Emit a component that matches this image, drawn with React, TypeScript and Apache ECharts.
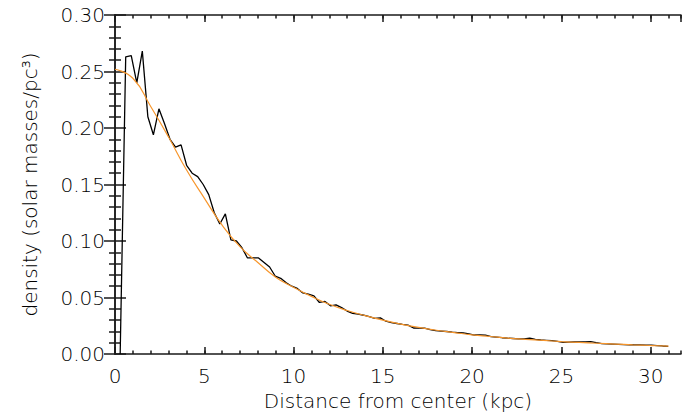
import React, { useEffect, useRef } from "react";
import * as echarts from "echarts";

const distances = [
  0.29, 0.6, 0.91, 1.22, 1.53, 1.84, 2.15, 2.46, 2.77, 3.08,
  3.39, 3.7, 4.01, 4.32, 4.63, 4.94, 5.25, 5.56, 5.87, 6.18,
  6.49, 6.8, 7.11, 7.42, 7.73, 8.04, 8.35, 8.66, 8.97, 9.28,
  9.59, 9.9, 10.21, 10.52, 10.83, 11.14, 11.45, 11.76, 12.07, 12.38,
  12.69, 13.0, 13.31, 13.62, 13.93, 14.24, 14.55, 14.86, 15.17, 15.48,
  15.79, 16.1, 16.41, 16.72, 17.03, 17.34, 17.65, 17.96, 18.27, 18.58,
  18.89, 19.2, 19.51, 19.82, 20.13, 20.44, 20.75, 21.06, 21.37, 21.68,
  21.99, 22.3, 22.61, 22.92, 23.23, 23.54, 23.85, 24.16, 24.47, 24.78,
  25.09, 25.4, 25.71, 26.02, 26.33, 26.64, 26.95, 27.26, 27.57, 27.88,
  28.19, 28.5, 28.81, 29.12, 29.43, 29.74, 30.05, 30.36, 30.67, 30.98,
];

const densities = [
  0.0, 0.263, 0.264, 0.24, 0.268, 0.21, 0.194, 0.217, 0.204, 0.19,
  0.183, 0.185, 0.167, 0.16, 0.157, 0.15, 0.141, 0.125, 0.115, 0.124,
  0.101, 0.1, 0.094, 0.085, 0.085, 0.085, 0.081, 0.077, 0.069, 0.067,
  0.063, 0.06, 0.058, 0.054, 0.053, 0.0515, 0.0456, 0.0465, 0.0426, 0.0435,
  0.041, 0.038, 0.036, 0.0352, 0.0343, 0.033, 0.0315, 0.032, 0.029, 0.0278,
  0.027, 0.0262, 0.0256, 0.023, 0.0229, 0.0228, 0.0215, 0.0206, 0.0203, 0.0199,
  0.0194, 0.019, 0.0186, 0.0178, 0.0168, 0.0168, 0.0167, 0.0153, 0.0149, 0.0144,
  0.014, 0.0137, 0.0134, 0.0133, 0.0141, 0.013, 0.0124, 0.0121, 0.0118, 0.0112,
  0.0103, 0.0105, 0.0106, 0.0107, 0.0108, 0.0109, 0.01, 0.0092, 0.009, 0.0088,
  0.0086, 0.0083, 0.0082, 0.0081, 0.008, 0.0079, 0.0078, 0.0075, 0.0071, 0.0068,
];

const fitDistances = [
  0, 1, 2, 3, 4, 5, 6, 7, 8, 9, 10, 11, 12, 13, 14, 15,
  16, 17, 18, 19, 20, 21, 22, 23, 24, 25, 26, 27, 28, 29, 30, 31,
];

const fitDensities = [
  0.252, 0.244, 0.219, 0.192, 0.163, 0.138, 0.114, 0.095, 0.081, 0.068,
  0.059, 0.051, 0.044, 0.0385, 0.034, 0.03, 0.0265, 0.0235, 0.021, 0.019,
  0.017, 0.0155, 0.014, 0.013, 0.012, 0.011, 0.0102, 0.0095, 0.0088, 0.0081,
  0.0075, 0.0069,
];

const xTitle = "Distance from center (kpc)";
const yTitle = "density (solar masses/pc³)";

const FONT = "DejaVu Sans";
const AXIS_COLOR = "#1a1a1a";

export default function App() {
  const ref = useRef<HTMLDivElement>(null);

  useEffect(() => {
    document.body.style.margin = "0";
    const chart = echarts.init(ref.current!, null, { renderer: "svg" });
    const lineStyle = { color: AXIS_COLOR, width: 1.5 };
    const label = { color: "#000", fontFamily: FONT, fontSize: 20, fontWeight: 200 };
    const xBase = { type: "value" as const, min: 0, max: 31.7, splitLine: { show: false } };
    const yBase = { type: "value" as const, min: 0, max: 0.3, interval: 0.05, splitLine: { show: false } };

    chart.setOption({
      animation: false,
      backgroundColor: "#fff",
      grid: { left: 115, right: 1, top: 15, bottom: 61, containLabel: false },
      xAxis: [
        {
          ...xBase,
          position: "bottom",
          interval: 5,
          axisLine: { show: true, lineStyle },
          axisTick: { show: true, inside: true, length: 7, lineStyle },
          axisLabel: { ...label, margin: 12, showMaxLabel: false, formatter: (v: number) => String(v) },
          name: xTitle,
          nameLocation: "middle",
          nameGap: 37,
          nameTextStyle: { ...label },
        },
        {
          ...xBase,
          position: "bottom",
          interval: 1,
          axisLine: { show: false },
          axisTick: { show: true, inside: true, length: 3.5, lineStyle },
          axisLabel: { show: false },
        },
        {
          ...xBase,
          position: "top",
          interval: 5,
          axisLine: { show: true, lineStyle },
          axisTick: { show: true, inside: true, length: 7, lineStyle },
          axisLabel: { show: false },
        },
        {
          ...xBase,
          position: "top",
          interval: 1,
          axisLine: { show: false },
          axisTick: { show: true, inside: true, length: 3.5, lineStyle },
          axisLabel: { show: false },
        },
      ],
      yAxis: [
        {
          ...yBase,
          position: "left",
          axisLine: { show: true, lineStyle },
          axisTick: { show: true, inside: true, length: 11, lineStyle },
          minorTick: { show: true, splitNumber: 5, length: 6, lineStyle },
          axisLabel: { ...label, margin: 10, formatter: (v: number) => v.toFixed(2) },
          name: yTitle,
          nameLocation: "middle",
          nameGap: 75,
          nameTextStyle: { ...label },
        },
        {
          ...yBase,
          position: "right",
          axisLine: { show: true, lineStyle },
          axisTick: { show: true, inside: true, length: 11, lineStyle },
          minorTick: { show: true, splitNumber: 5, length: 6, lineStyle },
          axisLabel: { show: false },
        },
      ],
      series: [
        {
          type: "line",
          xAxisIndex: 0,
          yAxisIndex: 0,
          data: distances.map((d, i) => [d, densities[i]]),
          showSymbol: false,
          lineStyle: { color: "#000", width: 1.3 },
          z: 2,
        },
        {
          type: "line",
          xAxisIndex: 0,
          yAxisIndex: 0,
          data: fitDistances.map((d, i) => [d, fitDensities[i]]),
          showSymbol: false,
          smooth: true,
          lineStyle: { color: "#f7962c", width: 1.2 },
          z: 3,
        },
      ],
    });
    return () => chart.dispose();
  }, []);

  return <div ref={ref} style={{ width: 682, height: 416 }} />;
}
